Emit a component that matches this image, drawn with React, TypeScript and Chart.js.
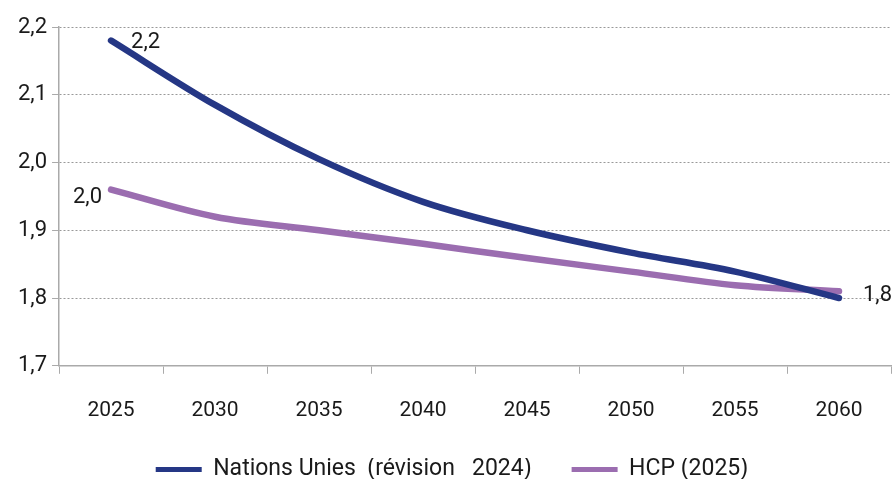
import React, { useEffect, useRef } from "react";
import { Chart, registerables } from "chart.js";

Chart.register(...registerables);

const years = ["2025", "2030", "2035", "2040", "2045", "2050", "2055", "2060"];
const unValues = [2.18, 2.085, 2.005, 1.942, 1.9, 1.867, 1.839, 1.8];
const hcpValues = [1.96, 1.92, 1.9, 1.88, 1.859, 1.839, 1.819, 1.81];
const unLabel = "Nations Unies  (révision   2024)";
const hcpLabel = "HCP (2025)";
const yTicks = [1.7, 1.8, 1.9, 2.0, 2.1, 2.2];

const FONT = "Roboto, 'Liberation Sans', sans-serif";
const TEXT = "#1a1a1a";

const labelPlugin = {
  id: "endLabels",
  afterDatasetsDraw(chart: any) {
    const ctx = chart.ctx;
    ctx.save();
    ctx.font = `22px ${FONT}`;
    ctx.fillStyle = TEXT;
    ctx.textBaseline = "middle";
    const un = chart.getDatasetMeta(0).data;
    const hcp = chart.getDatasetMeta(1).data;
    const fmt = (v: number) => v.toFixed(1).replace(".", ",");
    ctx.textAlign = "left";
    ctx.fillText(fmt(unValues[0]), un[0].x + 20, un[0].y + 2);
    ctx.textAlign = "right";
    ctx.fillText(fmt(hcpValues[0]), hcp[0].x - 9, hcp[0].y + 8);
    ctx.textAlign = "left";
    const last = un.length - 1;
    ctx.fillText(fmt(unValues[last]), un[last].x + 24, un[last].y - 3);
    ctx.restore();
  },
};

export default function App() {
  const ref = useRef<HTMLCanvasElement>(null);
  useEffect(() => {
    document.body.style.margin = "0";
    const chart = new Chart(ref.current as HTMLCanvasElement, {
      type: "line",
      data: {
        labels: years,
        datasets: [
          {
            label: unLabel,
            data: unValues,
            borderColor: "#253785",
            backgroundColor: "#253785",
            borderWidth: 6.5,
            pointRadius: 0,
            tension: 0.4,
            cubicInterpolationMode: "monotone",
            borderCapStyle: "round",
          },
          {
            label: hcpLabel,
            data: hcpValues,
            borderColor: "#9b6db0",
            backgroundColor: "#9b6db0",
            borderWidth: 6.5,
            pointRadius: 0,
            tension: 0.4,
            cubicInterpolationMode: "monotone",
            borderCapStyle: "round",
          },
        ],
      },
      options: {
        animation: false,
        responsive: false,
        maintainAspectRatio: false,
        layout: { padding: { left: 13, right: 2, top: 27, bottom: -12 } },
        plugins: {
          tooltip: { enabled: false },
          legend: {
            position: "bottom",
            labels: {
              boxWidth: 46,
              boxHeight: 5,
              color: TEXT,
              font: { family: FONT, size: 23 },
              padding: 0,
              generateLabels(chart: any) {
                const items = Chart.defaults.plugins.legend.labels.generateLabels(chart);
                return items.map((it: any, i: number) => ({
                  ...it,
                  lineWidth: 0,
                  text: i === 0 ? it.text + "       " : it.text,
                }));
              },
            },
          },
        },
        scales: {
          x: {
            offset: true,
            afterFit(axis: any) {
              axis.height += 11;
            },
            grid: {
              display: true,
              offset: true,
              drawOnChartArea: false,
              drawTicks: true,
              tickLength: 8,
              color: "#aaaaaa",
            },
            border: { display: true, color: "#aaaaaa", width: 1.5 },
            ticks: {
              color: TEXT,
              font: { family: FONT, size: 21 },
              padding: 24,
            },
          },
          y: {
            min: 1.7,
            max: 2.2,
            afterBuildTicks(axis: any) {
              axis.ticks = yTicks.map((v) => ({ value: v }));
            },
            grid: {
              color: "#999999",
              lineWidth: 1,
              drawTicks: true,
              tickLength: 7,
              tickColor: "#aaaaaa",
              tickBorderDash: [],
            },
            border: { display: true, color: "#aaaaaa", width: 1.5, dash: [2, 2] },
            ticks: {
              color: TEXT,
              font: { family: FONT, size: 22 },
              padding: 5,
              callback: (v: any) => Number(v).toFixed(1).replace(".", ","),
            },
          },
        },
      },
      plugins: [labelPlugin],
    } as any);
    return () => chart.destroy();
  }, []);
  return (
    <div style={{ position: "absolute", left: 0, top: 0, width: 893, height: 479 }}>
      <canvas ref={ref} width={893} height={479} style={{ width: 893, height: 479 }} />
    </div>
  );
}
